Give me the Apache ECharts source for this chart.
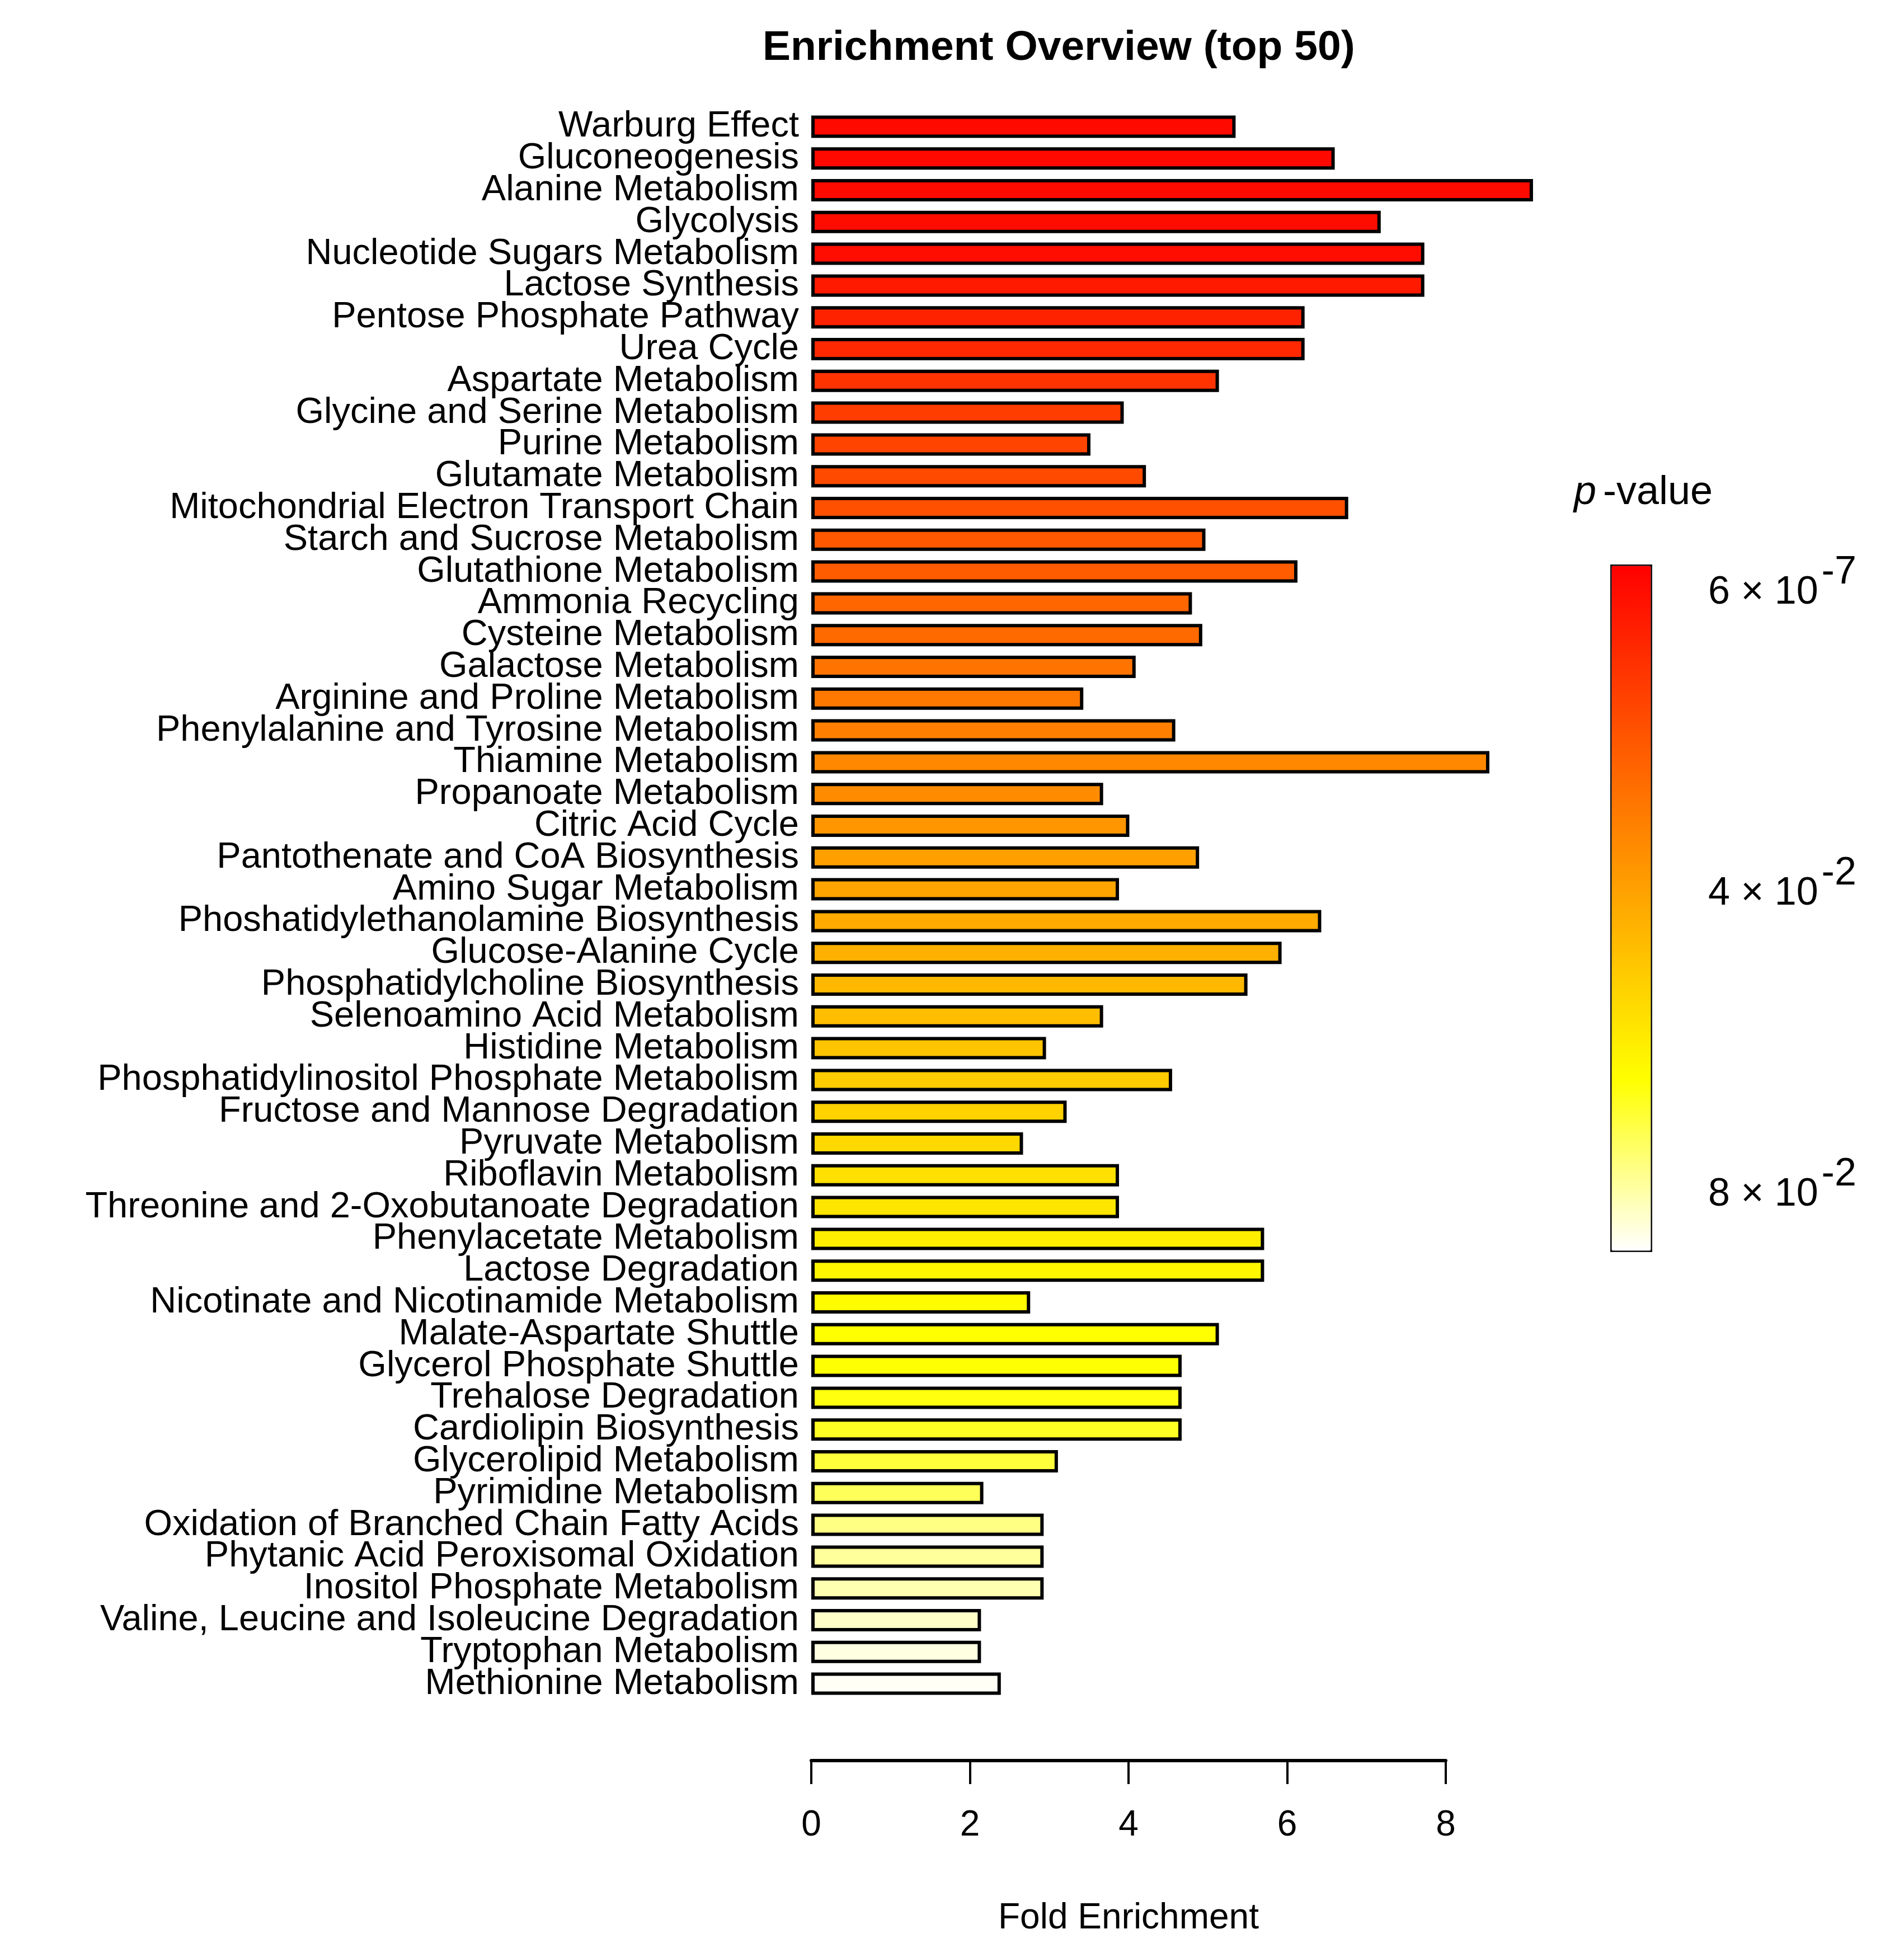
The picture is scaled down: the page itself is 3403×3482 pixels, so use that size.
<!DOCTYPE html>
<html>
<head>
<meta charset="utf-8">
<script src="https://cdn.jsdelivr.net/npm/echarts@6/dist/echarts.min.js"></script>
<style>
  html, body { margin: 0; padding: 0; background: #fff; }
  #main { width: 3403px; height: 3482px; }
</style>
</head>
<body>
<div id="main"></div>
<script>
var pathways = [
    'Warburg Effect', 'Gluconeogenesis', 'Alanine Metabolism', 'Glycolysis',
    'Nucleotide Sugars Metabolism', 'Lactose Synthesis', 'Pentose Phosphate Pathway',
    'Urea Cycle', 'Aspartate Metabolism', 'Glycine and Serine Metabolism',
    'Purine Metabolism', 'Glutamate Metabolism', 'Mitochondrial Electron Transport Chain',
    'Starch and Sucrose Metabolism', 'Glutathione Metabolism', 'Ammonia Recycling',
    'Cysteine Metabolism', 'Galactose Metabolism', 'Arginine and Proline Metabolism',
    'Phenylalanine and Tyrosine Metabolism', 'Thiamine Metabolism', 'Propanoate Metabolism',
    'Citric Acid Cycle', 'Pantothenate and CoA Biosynthesis', 'Amino Sugar Metabolism',
    'Phoshatidylethanolamine Biosynthesis', 'Glucose-Alanine Cycle',
    'Phosphatidylcholine Biosynthesis', 'Selenoamino Acid Metabolism', 'Histidine Metabolism',
    'Phosphatidylinositol Phosphate Metabolism', 'Fructose and Mannose Degradation',
    'Pyruvate Metabolism', 'Riboflavin Metabolism', 'Threonine and 2-Oxobutanoate Degradation',
    'Phenylacetate Metabolism', 'Lactose Degradation', 'Nicotinate and Nicotinamide Metabolism',
    'Malate-Aspartate Shuttle', 'Glycerol Phosphate Shuttle', 'Trehalose Degradation',
    'Cardiolipin Biosynthesis', 'Glycerolipid Metabolism', 'Pyrimidine Metabolism',
    'Oxidation of Branched Chain Fatty Acids', 'Phytanic Acid Peroxisomal Oxidation',
    'Inositol Phosphate Metabolism', 'Valine, Leucine and Isoleucine Degradation',
    'Tryptophan Metabolism', 'Methionine Metabolism'
];

var foldEnrichment = [
    5.35, 6.60, 9.10, 7.18, 7.73, 7.73, 6.22, 6.22, 5.14, 3.94,
    3.52, 4.22, 6.77, 4.97, 6.13, 4.80, 4.93, 4.09, 3.43, 4.59,
    8.55, 3.68, 4.01, 4.89, 3.88, 6.43, 5.93, 5.50, 3.68, 2.96,
    4.55, 3.22, 2.67, 3.88, 3.88, 5.71, 5.71, 2.76, 5.14, 4.67,
    4.67, 4.67, 3.11, 2.17, 2.93, 2.93, 2.93, 2.14, 2.14, 2.39
];

var pValues = [
    0.0000006, 0.0001, 0.0003, 0.0008, 0.0011, 0.0046, 0.0067, 0.0083, 0.0112, 0.0139,
    0.0158, 0.0174, 0.0190, 0.0211, 0.0222, 0.0249, 0.0260, 0.0284, 0.0297, 0.0319,
    0.0340, 0.0351, 0.0377, 0.0404, 0.0418, 0.0431, 0.0447, 0.0468, 0.0484, 0.0500,
    0.0522, 0.0538, 0.0554, 0.0575, 0.0591, 0.0613, 0.0634, 0.0650, 0.0659, 0.0662,
    0.0672, 0.0690, 0.0712, 0.0738, 0.0775, 0.0797, 0.0816, 0.0837, 0.0859, 0.0877
];

var foldTicks = [0, 8, 2];           // min, max, interval
var pTicks = [0.0000006, 0.04, 0.08];
var pRange = [-0.0024, 0.0886];
var heatColors = ['#ff0000', '#ff5500', '#ffaa00', '#ffff00', '#ffffff'];

var FONT = 'Liberation Sans, Arial, sans-serif';

var barData = pathways.map(function (name, i) {
    return [foldEnrichment[i], name, pValues[i]];
});

var dom = document.getElementById('main');
var myChart = echarts.init(dom, null, { renderer: 'canvas' });

var option = {
    backgroundColor: '#fff',
    animation: false,
    textStyle: { fontFamily: FONT, color: '#000' },
    title: [
        {
            text: 'Enrichment Overview (top 50)',
            left: 1358,
            top: 44,
            textStyle: { fontFamily: FONT, fontSize: 75, fontWeight: 'bold', color: '#000' }
        },
        {
            text: '{i|p}{n|-value}',
            left: 2808,
            top: 840,
            textStyle: {
                rich: {
                    i: { fontFamily: FONT, fontSize: 72, fontStyle: 'italic', fontWeight: 'normal', color: '#000', padding: [0, 12, 0, 0] },
                    n: { fontFamily: FONT, fontSize: 72, fontWeight: 'normal', color: '#000' }
                }
            }
        }
    ],
    visualMap: {
        type: 'continuous',
        seriesIndex: 0,
        dimension: 2,
        min: pRange[0],
        max: pRange[1],
        inverse: true,
        calculable: false,
        realtime: false,
        left: 2878,
        top: 1009,
        itemWidth: 70,
        itemHeight: 1224,
        padding: 0,
        borderColor: '#111',
        borderWidth: 5,
        text: null,
        showLabel: false,
        inRange: { color: heatColors }
    },
    grid: [
        { left: 1450, top: 198, width: 1417.5, height: 2840 },
        { left: 1450, top: 3100, width: 1134, height: 47 },
        { left: 2878, top: 1009, width: 73, height: 1224 }
    ],
    xAxis: [
        { gridIndex: 0, type: 'value', min: 0, max: 10, show: false },
        {
            gridIndex: 1,
            type: 'value',
            min: foldTicks[0],
            max: foldTicks[1],
            interval: foldTicks[2],
            position: 'bottom',
            name: 'Fold Enrichment',
            nameLocation: 'middle',
            nameGap: 250,
            nameTextStyle: { fontFamily: FONT, fontSize: 64, color: '#000' },
            axisLine: { show: true, lineStyle: { color: '#000', width: 6 } },
            axisTick: { show: true, length: 42, lineStyle: { color: '#000', width: 4 } },
            axisLabel: { fontFamily: FONT, fontSize: 64, color: '#000', margin: 84 },
            splitLine: { show: false }
        },
        { gridIndex: 2, type: 'value', show: false }
    ],
    yAxis: [
        {
            gridIndex: 0,
            type: 'category',
            data: pathways,
            inverse: true,
            axisLine: { show: false },
            axisTick: { show: false },
            axisLabel: { interval: 0, fontFamily: FONT, fontSize: 65, color: '#000', margin: 22 }
        },
        { gridIndex: 1, type: 'value', show: false },
        {
            gridIndex: 2,
            type: 'value',
            min: pRange[0],
            max: pRange[1],
            inverse: true,
            position: 'right',
            axisLine: { show: false },
            axisTick: { show: false },
            splitLine: { show: false },
            axisLabel: {
                show: true,
                customValues: pTicks,
                margin: 102,
                align: 'left',
                formatter: function (v) {
                    if (v < 0.001) {
                        return '{a|6 × 10}{s|-7}';
                    }
                    return '{a|' + Math.round(v * 100) + ' × 10}{s|-2}';
                },
                rich: {
                    a: { fontFamily: FONT, fontSize: 70, color: '#000', verticalAlign: 'bottom' },
                    s: { fontFamily: FONT, fontSize: 70, color: '#000', verticalAlign: 'bottom', padding: [0, 0, 36, 6] }
                }
            }
        }
    ],
    series: [
        {
            name: 'Fold Enrichment',
            type: 'bar',
            xAxisIndex: 0,
            yAxisIndex: 0,
            barWidth: 40,
            encode: { x: 0, y: 1 },
            itemStyle: { borderColor: '#000', borderWidth: 6 },
            data: barData
        }
    ]
};

if (option && typeof option === 'object') {
    myChart.setOption(option);
}

window.addEventListener('resize', myChart.resize);
</script>
</body>
</html>
